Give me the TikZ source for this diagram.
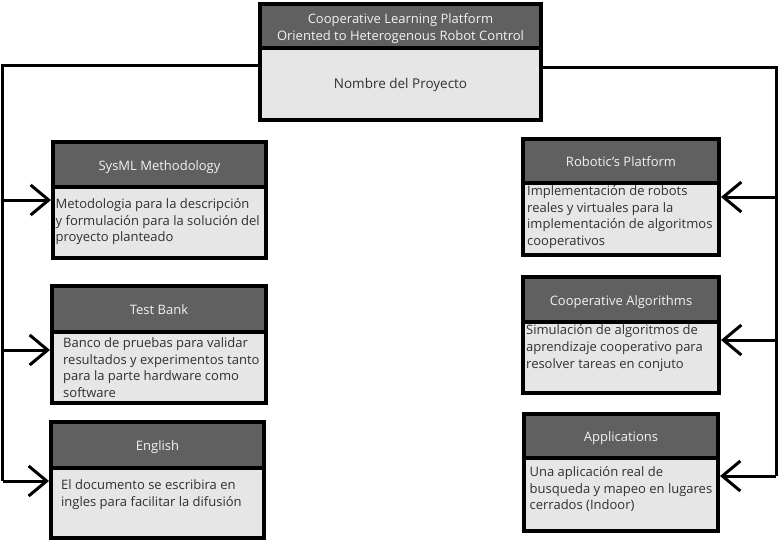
\documentclass[tikz,border=0pt]{standalone}
\usepackage{fontspec}
\setmainfont{Open Sans}
\usetikzlibrary{arrows.meta,calc}
\definecolor{hdrgray}{HTML}{606060}
\definecolor{bodygray}{HTML}{E6E6E6}
\definecolor{hdrtext}{HTML}{F2F2F2}
\definecolor{txtgray}{HTML}{303030}
\newcommand{\firststrut}{\rule{0pt}{10pt}}
\begin{document}
\begin{tikzpicture}[x=1pt,y=-1pt,
  hdr/.style={draw=black, line width=4pt, fill=hdrgray, inner sep=0pt, text=hdrtext,
     font=\fontsize{13}{17}\selectfont, text height=11.5pt, text depth=0pt},
  bodybox/.style={draw=black, line width=4pt, fill=bodygray, inner sep=0pt},
  bodytxt/.style={anchor=north west, inner sep=0pt, align=left, text=txtgray,
     font=\fontsize{13}{16.8}\selectfont},
  conn/.style={draw=black, line width=3pt},
  arr/.style={conn, -{Straight Barb[length=18pt,width=30pt,line width=3pt]}}
]
\useasboundingbox (0,0) rectangle (779,542);

\coordinate (tl) at (262,65);
\coordinate (L0) at (2.5,65);
\coordinate (L1) at (2.5,200);
\coordinate (L2) at (2.5,350);
\coordinate (L3) at (2.5,481);
\coordinate (tr) at (540,67);
\coordinate (R0) at (776,67);
\coordinate (R1) at (776,197);
\coordinate (R2) at (776,340);
\coordinate (R3) at (776,476);

% top box
\node[bodybox, minimum width=281, minimum height=72] (topb) at (400.5,84) {};
\node[bodybox, fill=hdrgray, minimum width=281, minimum height=44] (toph) at (400.5,26) {};
\node[inner sep=0pt, align=center, text=hdrtext, font=\fontsize{13}{17}\selectfont] (toptitle) at (400.5,28.3) {Cooperative Learning Platform\\Oriented to Heterogenous Robot Control};
\node[anchor=base, inner sep=0pt, font=\fontsize{13.5}{16}\selectfont, text=txtgray] (toptxt) at (400.5,88) {Nombre del Proyecto};

% left boxes
\node[bodybox, minimum width=213, minimum height=71] (sysb) at (159.5,222.5) {};
\node[hdr, minimum width=213, minimum height=45] (sysh) at (159.5,164.5) {SysML Methodology};
\node[bodytxt] (syst) at ($(sysb.north west)+(4.5,13)$) {\firststrut Metodologia para la descripción\\y formulación para la solución del\\proyecto planteado};

\node[bodybox, minimum width=214, minimum height=71] (tstb) at (159,367.5) {};
\node[hdr, minimum width=214, minimum height=46] (tsth) at (159,309) {Test Bank};
\node[bodytxt] (tstt) at ($(tstb.north west)+(13,7)$) {\firststrut Banco de pruebas para validar\\resultados y experimentos tanto\\para la parte hardware como\\software};

\node[bodybox, minimum width=213, minimum height=70] (engb) at (157.5,503) {};
\node[hdr, minimum width=213, minimum height=46] (engh) at (157.5,445) {English};
\node[bodytxt] (engt) at ($(engb.north west)+(12,13.5)$) {\firststrut El documento se escribira en\\ingles para facilitar la difusión};

% right boxes
\node[bodybox, minimum width=196, minimum height=72] (robb) at (621,219) {};
\node[hdr, minimum width=196, minimum height=44] (robh) at (621,161) {Robotic's Platform};
\node[bodytxt] (robt) at ($(robb.north west)+(6,4)$) {\firststrut Implementación de robots\\reales y virtuales para la\\implementación de algoritmos\\cooperativos};

\node[bodybox, minimum width=196, minimum height=71] (algb) at (621,357.5) {};
\node[hdr, minimum width=196, minimum height=45] (algh) at (621,299.5) {Cooperative Algorithms};
\node[bodytxt] (algt) at ($(algb.north west)+(5,4.5)$) {\firststrut Simulación de algoritmos de\\aprendizaje cooperativo para\\resolver tareas en conjuto};

\node[bodybox, minimum width=194, minimum height=73] (appb) at (621,494.5) {};
\node[hdr, minimum width=194, minimum height=44] (apph) at (621,436) {Applications};
\node[bodytxt] (appt) at ($(appb.north west)+(7.5,10)$) {\firststrut Una aplicación real de\\busqueda y mapeo en lugares\\cerrados (Indoor)};

% connectors
\draw[conn] (tl -| topb.west) -- (L0) -- (L3);
\draw[arr] (L1) -- (L1 -| sysb.west);
\draw[arr] (L2) -- (L2 -| tstb.west);
\draw[arr] (L3) -- (L3 -| engb.west);

\draw[conn] (tr -| topb.east) -- (R0) -- (R3);
\draw[arr] (R1) -- (R1 -| robb.east);
\draw[arr] (R2) -- (R2 -| algb.east);
\draw[arr] (R3) -- (R3 -| appb.east);
\end{tikzpicture}
\end{document}
